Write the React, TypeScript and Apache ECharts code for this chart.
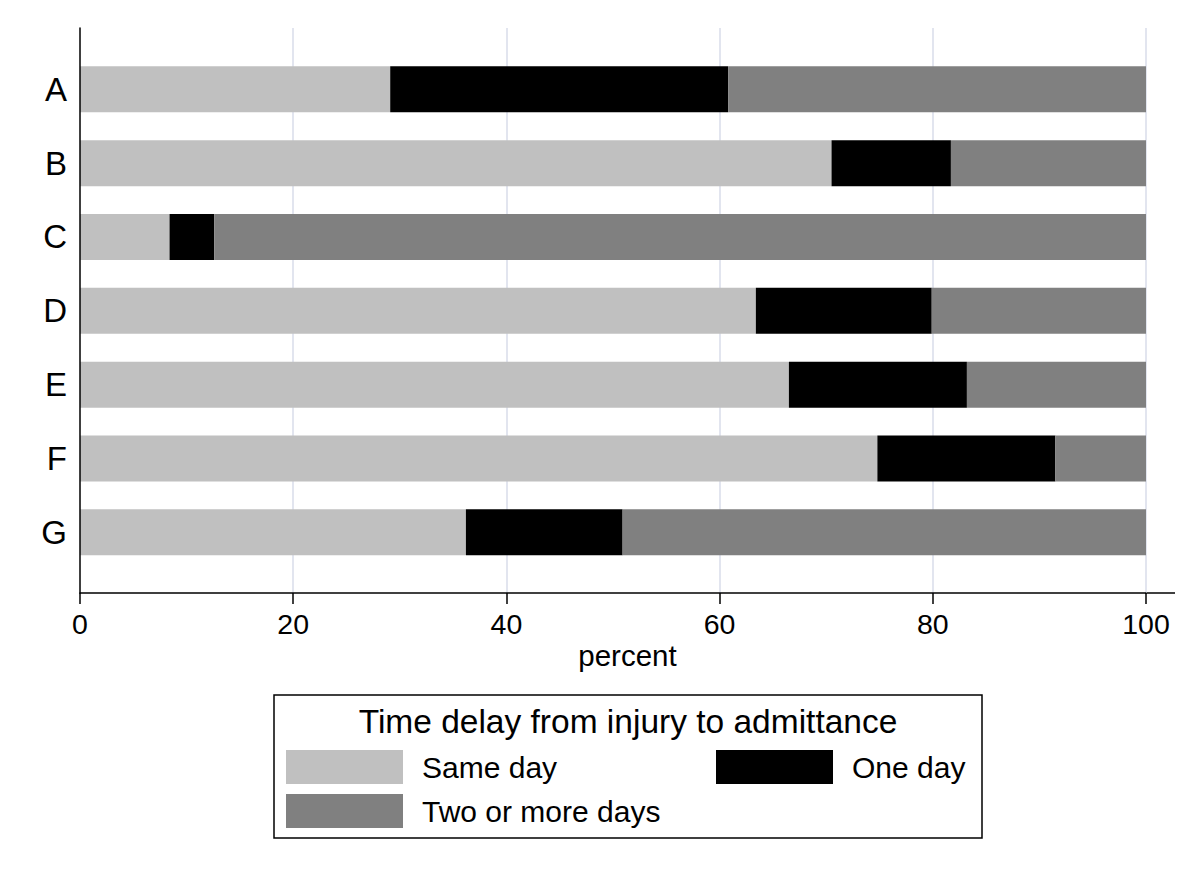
import React, { useEffect, useRef } from "react";
import * as echarts from "echarts";

const categories = ["A", "B", "C", "D", "E", "F", "G"];
const sameDay = [29.1, 70.5, 8.4, 63.4, 66.5, 74.8, 36.2];
const oneDay = [31.7, 11.2, 4.2, 16.5, 16.7, 16.7, 14.7];
const twoOrMore = [39.2, 18.3, 87.4, 20.1, 16.8, 8.5, 49.1];
const seriesNames = ["Same day", "One day", "Two or more days"];
const seriesColors = ["#c0c0c0", "#000000", "#808080"];
const xTicks = [0, 20, 40, 60, 80, 100];
const legendTitle = "Time delay from injury to admittance";
const xAxisTitle = "percent";

const FONT = '"Liberation Sans", Arial, Helvetica, sans-serif';

export default function App() {
  const ref = useRef<HTMLDivElement>(null);
  useEffect(() => {
    if (!ref.current) return;
    const chart = echarts.init(ref.current, null, { renderer: "svg" });
    const values = [sameDay, oneDay, twoOrMore];
    const option: any = {
      animation: false,
      backgroundColor: "#ffffff",
      textStyle: { fontFamily: FONT },
      grid: [
        { left: 80, right: 54, top: 52.4, bottom: 303.8 },
        { left: 80, right: 54, top: 28, bottom: 280 },
      ],
      xAxis: [
        { gridIndex: 0, type: "value", min: 0, max: 100, show: false },
        {
          gridIndex: 1,
          type: "value",
          min: xTicks[0],
          max: xTicks[xTicks.length - 1],
          interval: xTicks[1] - xTicks[0],
          axisLine: { show: true, lineStyle: { color: "#000", width: 1.5 } },
          axisTick: { show: true, length: 11, lineStyle: { color: "#000", width: 1.5 } },
          axisLabel: { fontSize: 28.5, color: "#000", margin: 16, fontFamily: FONT },
          splitLine: { show: true, showMinLine: false, lineStyle: { color: "#e2e5ef", width: 2 } },
        },
      ],
      yAxis: [
        {
          gridIndex: 0,
          type: "category",
          inverse: true,
          data: categories,
          axisLine: { show: false },
          axisTick: { show: false },
          splitLine: { show: false },
          axisLabel: { fontSize: 33, color: "#000", margin: 13, fontFamily: FONT },
        },
        {
          gridIndex: 1,
          type: "value",
          min: 0,
          max: 1,
          z: 5,
          axisLine: { show: true, lineStyle: { color: "#000", width: 1.5 } },
          axisTick: { show: false },
          axisLabel: { show: false },
          splitLine: { show: false },
        },
      ],
      legend: [
        {
          data: [seriesNames[0], seriesNames[2]],
          orient: "vertical",
          left: 286,
          top: 750,
          padding: 0,
          itemWidth: 117,
          itemHeight: 34,
          itemGap: 10,
          icon: "rect",
          selectedMode: false,
          textStyle: { fontSize: 30, color: "#000", fontFamily: FONT, padding: [0, 0, 4, 14] },
        },
        {
          data: [seriesNames[1]],
          orient: "vertical",
          left: 716,
          top: 750,
          padding: 0,
          itemWidth: 117,
          itemHeight: 34,
          icon: "rect",
          selectedMode: false,
          textStyle: { fontSize: 30, color: "#000", fontFamily: FONT, padding: [0, 0, 4, 14] },
        },
      ],
      series: seriesNames.map((name, i) => ({
        name,
        type: "bar",
        stack: "total",
        xAxisIndex: 0,
        yAxisIndex: 0,
        barWidth: 46,
        itemStyle: { color: seriesColors[i] },
        data: values[i],
      })),
      graphic: [
        {
          type: "line",
          shape: { x1: 1145, y1: 593, x2: 1175, y2: 593 },
          style: { stroke: "#000", lineWidth: 1.5 },
        },
        {
          type: "text",
          x: 627.5,
          y: 655,
          style: {
            text: xAxisTitle,
            font: `29.5px ${FONT}`,
            fill: "#000",
            align: "center",
            verticalAlign: "middle",
          },
        },
        {
          type: "rect",
          shape: { x: 274, y: 695, width: 708, height: 143 },
          style: { fill: "none", stroke: "#000", lineWidth: 1.5 },
        },
        {
          type: "text",
          x: 628,
          y: 721,
          style: {
            text: legendTitle,
            font: `33.5px ${FONT}`,
            fill: "#000",
            align: "center",
            verticalAlign: "middle",
          },
        },
      ],
    };
    chart.setOption(option);
    return () => chart.dispose();
  }, []);
  return (
    <div
      ref={ref}
      style={{ position: "fixed", left: 0, top: 0, width: 1200, height: 873, background: "#fff" }}
    />
  );
}
